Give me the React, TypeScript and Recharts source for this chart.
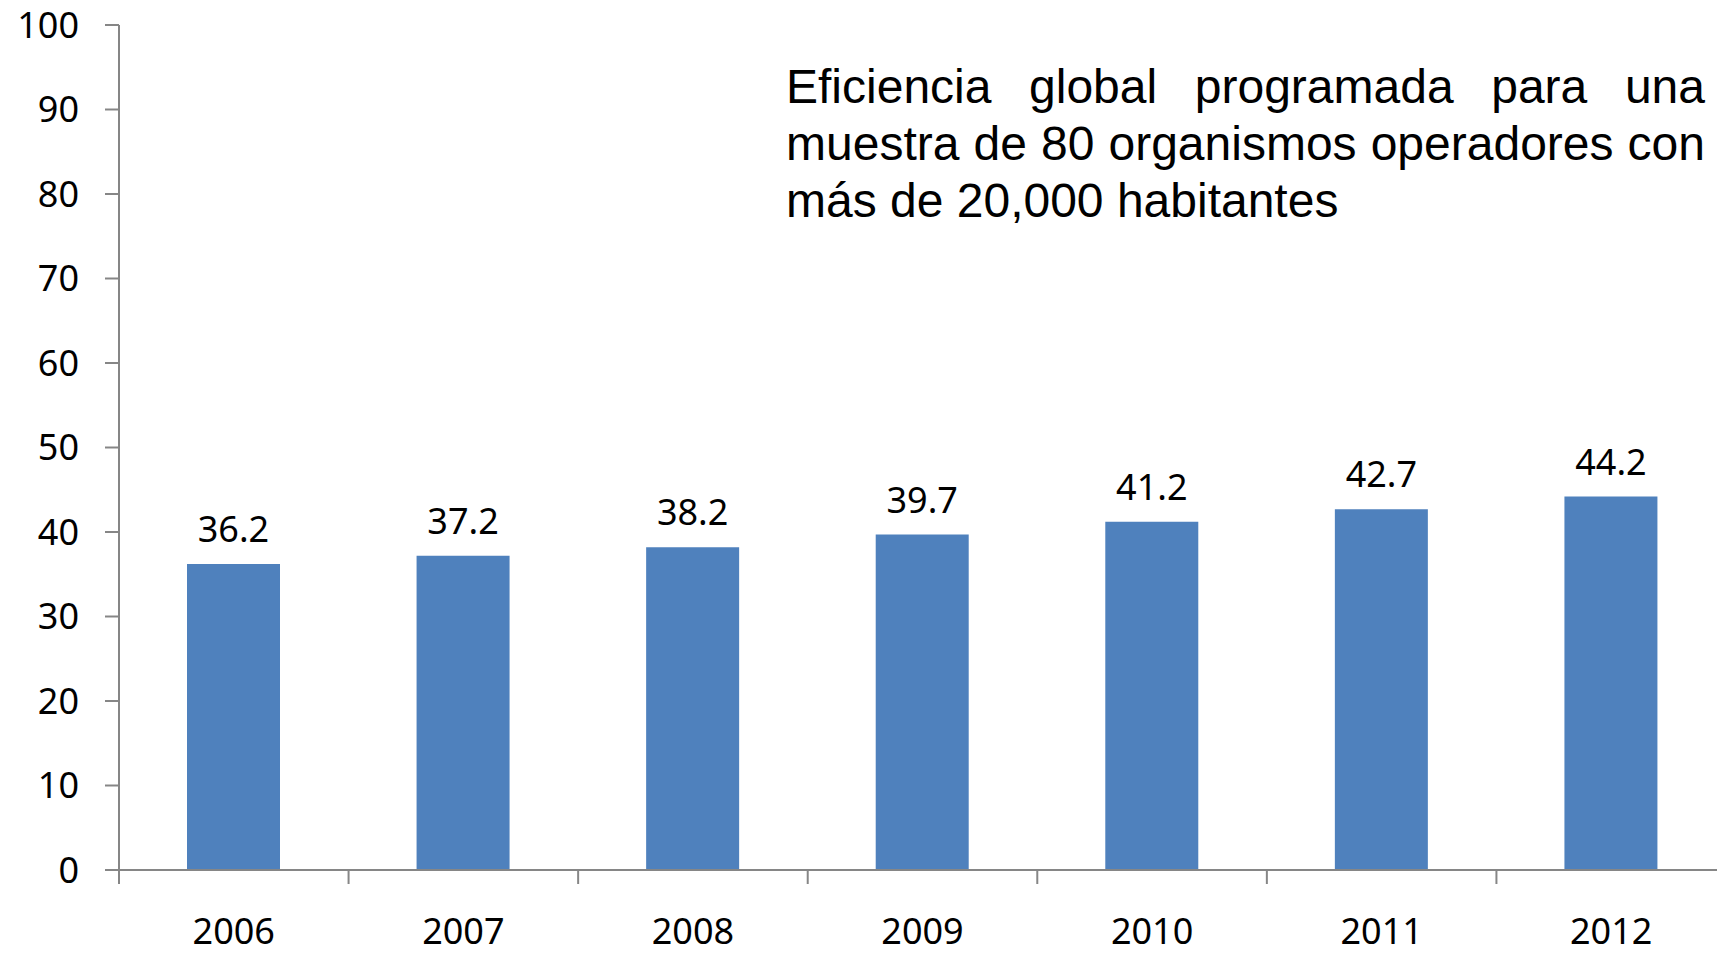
import { Bar, BarChart, LabelList, XAxis, YAxis } from "recharts";

const years = ["2006", "2007", "2008", "2009", "2010", "2011", "2012"];
const efficiency = [36.2, 37.2, 38.2, 39.7, 41.2, 42.7, 44.2];
const yTicks = [0, 10, 20, 30, 40, 50, 60, 70, 80, 90, 100];
const titleText =
  "Eficiencia global programada para una muestra de 80 organismos operadores con más de 20,000 habitantes";

const chartData = years.map((year, i) => ({ year, value: efficiency[i] }));

const CHART_W = 1730;
const CHART_H = 956;
const MARGIN = { top: 25, right: 4, bottom: 0, left: 0 };
const Y_AXIS_W = 119;
const X_AXIS_H = 86;
const AXIS_GREY = "#868686";
const FONT = "'Noto Sans', sans-serif";

const halfBand = (CHART_W - MARGIN.left - MARGIN.right - Y_AXIS_W) / years.length / 2;

const YearTick = (props: any) => {
  const { x, y, payload } = props;
  return (
    <g>
      <line x1={x - halfBand} y1={y} x2={x - halfBand} y2={y + 14} stroke={AXIS_GREY} strokeWidth={2} />
      <text x={x} y={y + 74} textAnchor="middle" fill="#000" fontSize={36} fontFamily={FONT}>
        {payload.value}
      </text>
    </g>
  );
};

export default function App() {
  return (
    <div
      style={{
        position: "absolute",
        left: 0,
        top: 0,
        width: 1717,
        height: 956,
        overflow: "hidden",
        background: "#fff"
      }}
    >
      <BarChart width={CHART_W} height={CHART_H} data={chartData} margin={MARGIN}>
        <XAxis
          dataKey="year"
          height={X_AXIS_H}
          tickSize={0}
          tickMargin={0}
          tickLine={false}
          axisLine={{ stroke: AXIS_GREY, strokeWidth: 2 }}
          tick={<YearTick />}
          interval={0}
        />
        <YAxis
          width={Y_AXIS_W}
          domain={[0, 100]}
          ticks={yTicks}
          interval={0}
          tickSize={14}
          tickMargin={26}
          axisLine={{ stroke: AXIS_GREY, strokeWidth: 2 }}
          tickLine={{ stroke: AXIS_GREY, strokeWidth: 2 }}
          tick={{ fill: "#000", fontSize: 36, fontFamily: FONT }}
        />
        <Bar dataKey="value" fill="#4F81BD" barSize={93} isAnimationActive={false}>
          <LabelList
            dataKey="value"
            position="top"
            offset={22}
            fill="#000"
            fontSize={36}
            fontFamily={FONT}
          />
        </Bar>
      </BarChart>
      <div
        style={{
          position: "absolute",
          left: 786,
          top: 58,
          width: 919,
          fontFamily: "'Liberation Sans', Arial, sans-serif",
          fontSize: 48,
          lineHeight: "57px",
          textAlign: "justify",
          color: "#000"
        }}
      >
        {titleText}
      </div>
    </div>
  );
}
